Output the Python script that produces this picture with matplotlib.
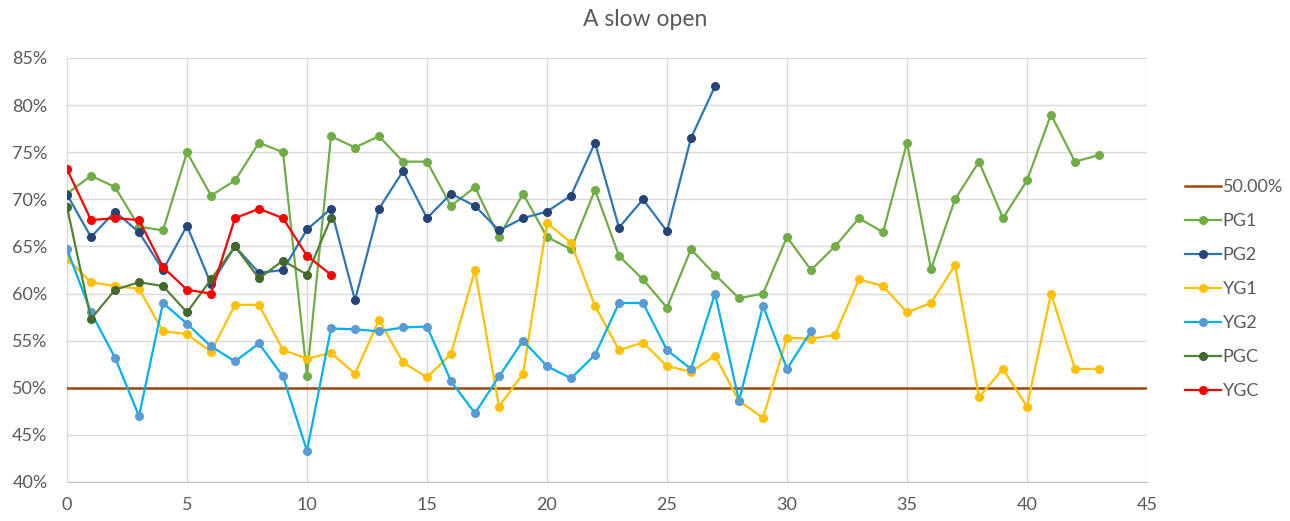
import numpy as np
import matplotlib
matplotlib.use("Agg")
import matplotlib.pyplot as plt
from matplotlib.ticker import FuncFormatter, MultipleLocator

plt.rcParams["font.family"] = ["Lato", "DejaVu Sans"]

# values in percent
pg1 = [70.6, 72.5, 71.3, 67.1, 66.7, 75.0, 70.4, 72.0, 76.0, 75.0,
       51.3, 76.7, 75.5, 76.7, 74.0, 74.0, 69.3, 71.3, 66.0, 70.6,
       66.0, 64.7, 71.0, 64.0, 61.5, 58.5, 64.7, 62.0, 59.5, 60.0,
       66.0, 62.5, 65.0, 68.0, 66.5, 76.0, 62.6, 70.0, 74.0, 68.0,
       72.0, 79.0, 74.0, 74.7]
pg2 = [70.5, 66.0, 68.7, 66.5, 62.5, 67.2, 61.0, 65.0, 62.2, 62.5,
       66.8, 69.0, 59.3, 69.0, 73.0, 68.0, 70.6, 69.3, 66.7, 68.0,
       68.7, 70.4, 76.0, 67.0, 70.0, 66.6, 76.5, 82.0]
yg1 = [63.7, 61.2, 60.8, 60.5, 56.0, 55.7, 53.8, 58.8, 58.8, 54.0,
       53.1, 53.7, 51.5, 57.2, 52.7, 51.1, 53.6, 62.5, 48.0, 51.5,
       67.5, 65.4, 58.7, 54.0, 54.8, 52.3, 51.7, 53.4, 48.6, 46.8,
       55.3, 55.2, 55.6, 61.5, 60.8, 58.0, 59.0, 63.0, 49.0, 52.0,
       48.0, 60.0, 52.0, 52.0]
yg2 = [64.7, 58.0, 53.2, 47.0, 59.0, 56.8, 54.4, 52.8, 54.7, 51.2,
       43.3, 56.3, 56.2, 56.0, 56.4, 56.5, 50.7, 47.3, 51.2, 55.0,
       52.3, 51.0, 53.5, 59.0, 59.0, 54.0, 52.0, 60.0, 48.6, 58.7,
       52.0, 56.0]
pgc = [69.2, 57.3, 60.4, 61.2, 60.8, 58.0, 61.5, 65.0, 61.6, 63.5,
       62.0, 68.0]
ygc = [73.2, 67.8, 68.0, 67.8, 62.8, 60.4, 60.0, 68.0, 69.0, 68.0,
       64.0, 62.0]
threshold = 50.0

series = [
    ("PG1", pg1, "#70AD47", "#70AD47"),
    ("PG2", pg2, "#2E75B6", "#264478"),
    ("YG1", yg1, "#FFC000", "#FFC000"),
    ("YG2", yg2, "#00B0F0", "#5B9BD5"),
    ("PGC", pgc, "#548235", "#43682B"),
    ("YGC", ygc, "#FF0000", "#FF0000"),
]

fig = plt.figure(figsize=(12.9, 5.21), dpi=100)
ax = fig.add_axes([67 / 1290, 1 - 482 / 521, (1147 - 67) / 1290, (482 - 58) / 521])

ax.axhline(threshold, color="#9E480E", lw=1.8, label="50.00%", zorder=2)
for name, vals, lc, mc in series:
    ax.plot(np.arange(len(vals)), vals, color=lc, lw=1.6, marker="o", ms=5.5,
            mfc=mc, mec=mc, label=name, zorder=3)

ax.set_xlim(0, 45)
ax.set_ylim(40, 85)
ax.xaxis.set_major_locator(MultipleLocator(5))
ax.yaxis.set_major_locator(MultipleLocator(5))
ax.yaxis.set_major_formatter(FuncFormatter(lambda v, _: f"{v:.0f}%"))
ax.grid(True, color="#D9D9D9", lw=1.0)
ax.set_axisbelow(True)
for side in ["top", "right", "left"]:
    ax.spines[side].set_visible(False)
ax.spines["bottom"].set_color("#BFBFBF")
ax.tick_params(length=0, labelsize=13, colors="#595959")
ax.tick_params(axis="x", pad=11)
ax.tick_params(axis="y", pad=14)

fig.text(0.5, 1 - 20 / 521, "A slow open", fontsize=16.5, color="#595959",
         ha="center", va="center")

leg = ax.legend(loc="center left", bbox_to_anchor=(1.02, 0.455), frameon=False,
                fontsize=13, handlelength=2.0, labelspacing=1.0,
                handletextpad=0.1, labelcolor="#595959")

fig.savefig("out.png", dpi=100)
